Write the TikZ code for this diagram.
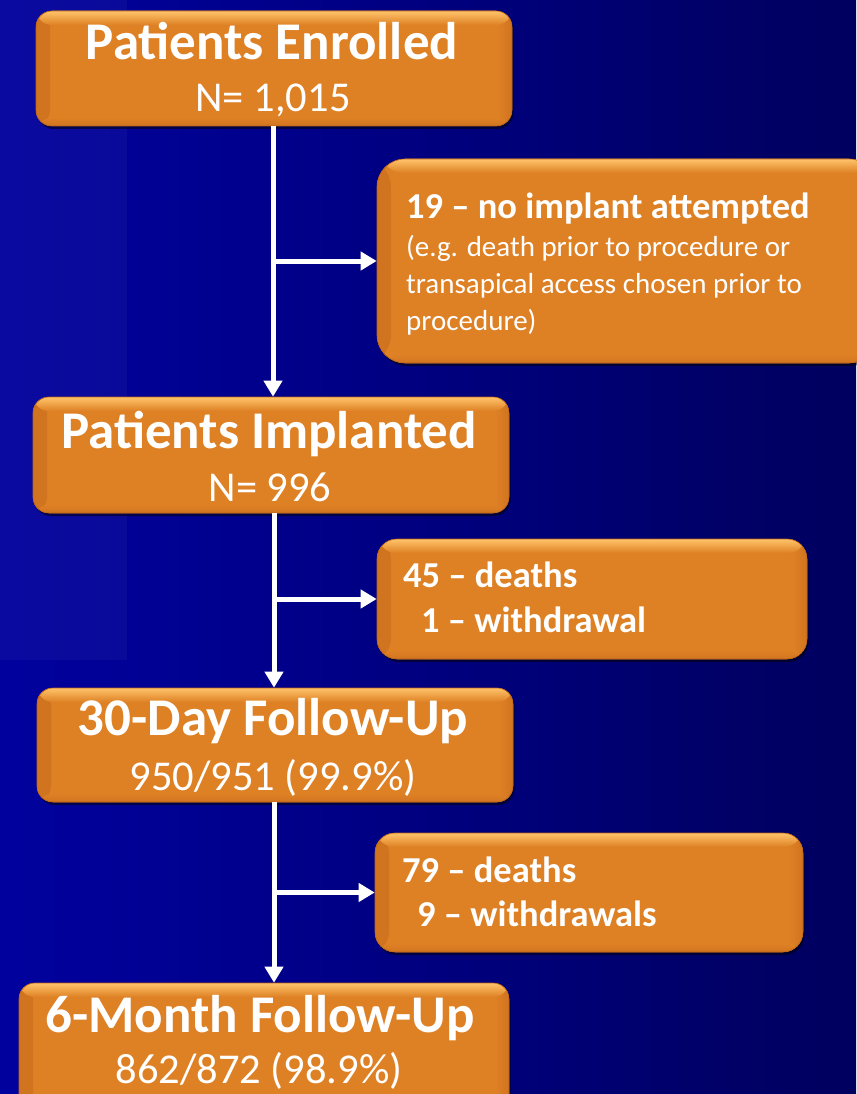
\documentclass[tikz,border=0pt]{standalone}
\usepackage{fontspec}
\setmainfont{Carlito}
\usetikzlibrary{arrows.meta,shadows,calc}
\definecolor{boxor}{HTML}{DE8024}
\definecolor{boxhi}{HTML}{FFC46A}
\definecolor{boxdk}{HTML}{D07420}
\definecolor{boxedge}{HTML}{B86218}
\pgfdeclarehorizontalshading{bgshade}{100bp}{
  color(0bp)=(rgb,255:red,14;green,14;blue,196);
  color(17bp)=(rgb,255:red,2;green,2;blue,168);
  color(45bp)=(rgb,255:red,0;green,0;blue,134);
  color(70bp)=(rgb,255:red,0;green,0;blue,100);
  color(100bp)=(rgb,255:red,0;green,0;blue,72)}
\tikzset{
  box/.style={draw=boxedge, line width=0.6pt, fill=boxor, inner sep=0pt,
    drop shadow={shadow xshift=1.5pt, shadow yshift=-3pt, opacity=0.5, fill=black},
    path picture={
      \fill[left color=boxdk, right color=boxor] (path picture bounding box.north west) rectangle ([xshift=14pt]path picture bounding box.south west);
      \fill[left color=boxor, right color=boxdk] ([xshift=-14pt]path picture bounding box.north east) rectangle (path picture bounding box.south east);
      \fill[top color=boxhi, bottom color=boxor] (path picture bounding box.north west) rectangle ([yshift=-14pt]path picture bounding box.north east);
      \fill[top color=boxor, bottom color=boxdk] ([yshift=8pt]path picture bounding box.south west) rectangle (path picture bounding box.south east);
    }},
  mainbox/.style={box, rounded corners=16pt},
  sidebox/.style={box, rounded corners=20pt},
  ttl/.style={text=white, inner sep=0pt, anchor=base, font=\fontsize{53}{56}\selectfont\bfseries},
  sub/.style={text=white, inner sep=0pt, anchor=base, font=\fontsize{42.5}{46}\selectfont},
  sbold/.style={text=white, inner sep=0pt, anchor=base west, font=\fontsize{36.5}{40}\selectfont\bfseries},
  sreg/.style={text=white, inner sep=0pt, anchor=base west, font=\fontsize{29}{32}\selectfont},
  arr/.style={draw=white, line width=5pt, -{Triangle[width=18pt,length=16pt]}},
}
\begin{document}
\begin{tikzpicture}[x=1pt,y=-1pt]
\useasboundingbox (0,0) rectangle (856,1094);
\shade[shading=bgshade] (0,0) rectangle (856,1094);
\fill[white, opacity=0.04] (0,0) rectangle (127,660);

% main boxes
\node[mainbox, minimum width=476pt, minimum height=115pt] (b1) at (274,68.5) {};
\node[ttl] (b1a) at (272,60) {Patients Enrolled};
\node[sub] (b1b) at (273,112) {N= 1,015};

\node[mainbox, minimum width=476pt, minimum height=116pt] (b2) at (271,455) {};
\node[ttl] (b2a) at (269,448) {Patients Implanted};
\node[sub] (b2b) at (270,501) {N= 996};

\node[mainbox, minimum width=476pt, minimum height=114pt] (b3) at (275,745) {};
\node[ttl] (b3a) at (273,735) {30-Day Follow-Up};
\node[sub] (b3b) at (273,790) {950/951 (99.9\%)};

\node[mainbox, minimum width=490pt, minimum height=130pt] (b4) at (264,1048) {};
\node[ttl] (b4a) at (260,1032) {6-Month Follow-Up};
\node[sub] (b4b) at (259,1083) {862/872 (98.9\%)};

% side boxes
\node[sidebox, rounded corners=28pt, minimum width=500pt, minimum height=204pt] (s1) at (627,261) {};
\node[sbold] (s1a) at (406,218) {19 – no implant attempted};
\node[sreg] (s1b) at (406,256) {(e.g. death prior to procedure or};
\node[sreg] (s1c) at (406,293) {transapical access chosen prior to};
\node[sreg] (s1d) at (406,330) {procedure)};

\node[sidebox, minimum width=430pt, minimum height=120pt] (s2) at (592,599) {};
\node[sbold] (s2a) at (403,587) {45 – deaths};
\node[sbold] (s2b) at (421,632) {1 – withdrawal};

\node[sidebox, minimum width=428pt, minimum height=119pt] (s3) at (589,892.5) {};
\node[sbold] (s3a) at (402,882) {79 – deaths};
\node[sbold] (s3b) at (417,926) {9 – withdrawals};

% connectors
\coordinate (t1) at ([xshift=-1pt]b1.south);
\draw[arr] (t1) -- (t1 |- b2.north);
\draw[arr] (t1 |- s1.west) -- (s1.west);

\coordinate (t2) at ([xshift=3pt]b2.south);
\draw[arr] (t2) -- (t2 |- b3.north);
\draw[arr] (t2 |- s2.west) -- (s2.west);

\coordinate (t3) at ([xshift=-1pt]b3.south);
\draw[arr] (t3) -- (t3 |- b4.north);
\draw[arr] (t3 |- s3.west) -- (s3.west);
\end{tikzpicture}
\end{document}
